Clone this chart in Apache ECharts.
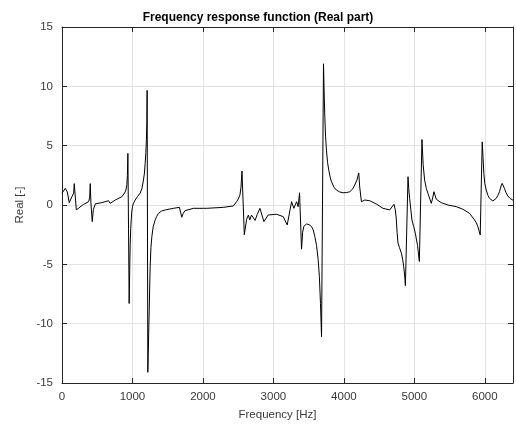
<!DOCTYPE html>
<html>
<head>
<meta charset="utf-8">
<script src="https://cdn.jsdelivr.net/npm/echarts@6/dist/echarts.min.js"></script>
<style>html,body{margin:0;padding:0;background:#fff}#c{width:516px;height:428px}</style>
</head>
<body>
<div id="c"></div>
<script>
const freq = [0,47,75,103,141,165,174,190,203,236,270,306,377,392,401,410,429,445,473,566,660,684,700,755,850,897,910,920,928,935,944,953,957,962,968,975,982,990,1000,1015,1038,1070,1109,1135,1156,1170,1180,1190,1198,1204,1208,1218,1224,1230,1237,1244,1251,1262,1275,1295,1322,1345,1369,1410,1463,1581,1666,1690,1700,1720,1746,1864,2010,2030,2050,2289,2431,2478,2500,2525,2540,2554,2587,2620,2645,2665,2690,2712,2740,2770,2809,2865,2926,3045,3139,3196,3258,3290,3329,3351,3371,3399,3415,3432,3470,3505,3541,3565,3588,3612,3635,3652,3668,3683,3711,3718,3724,3730,3740,3753,3768,3786,3805,3824,3860,3895,3940,3989,4040,4084,4125,4154,4185,4211,4225,4249,4296,4367,4462,4555,4650,4711,4730,4745,4755,4768,4790,4816,4835,4849,4862,4873,4910,4920,4933,4950,4966,4990,5014,5045,5071,5108,5125,5146,5170,5193,5220,5241,5260,5278,5312,5382,5476,5500,5595,5689,5783,5854,5880,5901,5920,5935,5963,5975,5986,6000,6020,6045,6067,6090,6114,6140,6162,6185,6209,6230,6246,6262,6279,6300,6326,6360,6400];
const realPart = [1.0,1.4,1.1,0.2,0.7,1.0,1.8,0.6,-0.4,-0.28,-0.1,0.05,0.28,0.6,1.8,0.2,-1.4,-0.4,0.1,0.2,0.36,0.14,0.3,0.42,0.7,1.1,1.35,1.7,2.5,4.35,-2,-8.3,-7.0,-5,-3.3,-2.0,-1.26,-0.6,-0.14,0.15,0.42,0.7,1.0,1.4,2.1,2.7,3.5,4.4,5.5,7.0,9.66,-14.1,-12.5,-10.8,-9.1,-7.0,-5.2,-3.6,-2.66,-1.8,-1.26,-0.95,-0.7,-0.52,-0.42,-0.28,-0.2,-0.25,-1.03,-0.7,-0.48,-0.28,-0.28,-0.38,-0.28,-0.2,-0.08,0.28,0.5,0.84,1.5,2.86,-2.5,-1.2,-0.85,-1.25,-0.85,-0.7,-1.3,-0.8,-0.28,-1.4,-0.84,-0.78,-0.98,-1.68,0.28,-0.28,0.28,-0.14,1.03,-3.72,-2.3,-1.8,-1.6,-1.65,-1.82,-2.1,-2.66,-3.4,-4.6,-6.0,-8.3,-11.1,11.9,10.0,8.6,7.4,5.8,4.6,3.6,2.94,2.35,1.96,1.5,1.26,1.1,1.03,1.05,1.12,1.35,1.68,2.1,2.7,1.5,0.28,0.42,0.36,0.08,-0.28,-0.42,0.06,-0.4,-1.26,-2.3,-3.2,-3.6,-4.06,-4.6,-5.2,-5.9,-6.8,2.38,1.4,0.56,-0.4,-1.26,-1.8,-2.38,-3.4,-4.76,5.52,3.4,2.1,1.4,0.98,0.5,0.14,0.6,1.12,0.48,0.2,0.0,-0.02,-0.14,-0.36,-0.7,-1.26,-1.5,-1.82,-2.2,-2.52,5.32,4.0,2.66,1.8,1.26,0.8,0.56,0.4,0.34,0.42,0.56,0.8,1.12,1.6,1.82,1.7,1.4,1.05,0.76,0.55,0.4];
const xTicks = [0,1000,2000,3000,4000,5000,6000];
const yTicks = [-15,-10,-5,0,5,10,15];

const font = "'Liberation Sans', Arial, sans-serif";
const axisColor = '#262626';
const labelColor = '#3a3a3a';
const gridColor = '#e3e3e3';

const chart = echarts.init(document.getElementById('c'), null, {renderer:'canvas'});
const baseX = {
  type:'value', min:0, max:6400, interval:1000,
  axisLine:{show:true, onZero:false, lineStyle:{color:axisColor, width:1}},
  axisTick:{show:true, inside:true, length:5, lineStyle:{color:axisColor}},
  splitLine:{show:true, lineStyle:{color:gridColor, width:1}}
};
const baseY = {
  type:'value', min:-15, max:15, interval:5,
  axisLine:{show:true, onZero:false, lineStyle:{color:axisColor, width:1}},
  axisTick:{show:true, inside:true, length:5, lineStyle:{color:axisColor}},
  splitLine:{show:true, lineStyle:{color:gridColor, width:1}}
};
chart.setOption({
  animation:false,
  backgroundColor:'#fff',
  title:{
    text:'Frequency response function (Real part)',
    left:'center', top:7,
    textStyle:{fontFamily:font, fontSize:12, fontWeight:'bold', color:'#000'}
  },
  grid:{left:62, right:3, top:27, bottom:45, containLabel:false},
  xAxis:[
    Object.assign({}, baseX, {
      position:'bottom',
      name:'Frequency [Hz]', nameLocation:'middle', nameGap:26,
      nameTextStyle:{fontFamily:font, fontSize:11.5, color:labelColor, padding:[0,20,0,0]},
      axisLabel:{show:true, margin:8, fontFamily:font, fontSize:11.5, color:labelColor,
        showMaxLabel:false,
        formatter:function(v){ return xTicks.indexOf(v) >= 0 ? String(v) : ''; }}
    }),
    Object.assign({}, baseX, {position:'top', axisLabel:{show:false}, splitLine:{show:false}})
  ],
  yAxis:[
    Object.assign({}, baseY, {
      position:'left',
      name:'Real [-]', nameLocation:'middle', nameGap:34, nameRotate:90,
      nameTextStyle:{fontFamily:font, fontSize:11.5, color:labelColor},
      axisLabel:{show:true, margin:9, fontFamily:font, fontSize:11.5, color:labelColor,
        formatter:function(v){ return yTicks.indexOf(v) >= 0 ? String(v) : ''; }}
    }),
    Object.assign({}, baseY, {position:'right', axisLabel:{show:false}, splitLine:{show:false}})
  ],
  series:[{
    type:'line',
    xAxisIndex:0, yAxisIndex:0,
    data: freq.map(function(f,i){ return [f, realPart[i]]; }),
    showSymbol:false, symbol:'none',
    lineStyle:{color:'#000', width:1},
    smooth:false
  }]
});
</script>
</body>
</html>
